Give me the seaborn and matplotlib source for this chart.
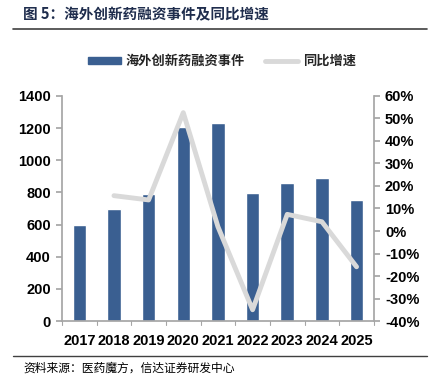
import numpy as np
import pandas as pd
import matplotlib
matplotlib.use("Agg")
import matplotlib.pyplot as plt
import seaborn as sns
from matplotlib.lines import Line2D
from matplotlib.patches import Patch
from matplotlib.ticker import FuncFormatter, MultipleLocator

# 数据
years = ["2017", "2018", "2019", "2020", "2021", "2022", "2023", "2024", "2025"]
events = [600, 695, 790, 1210, 1230, 797, 857, 892, 753]
growth = [np.nan, 15.7, 13.8, 52.6, 1.9, -35.0, 7.4, 4.1, -15.9]

bar_color = "#3A5F91"
line_color = "#D9D9D9"
axis_color = "#A6A6A6"

sns.set_theme(style="white")
plt.rcParams["font.family"] = ["Liberation Sans", "Noto Sans CJK SC", "DejaVu Sans"]

df = pd.DataFrame({"year": years, "events": events, "growth": growth})
df["pos"] = np.arange(len(df))

fig = plt.figure(figsize=(4.35, 3.87), dpi=100)
ax = fig.add_axes([0.1425, 0.1705, 0.717, 0.5815])

sns.barplot(data=df, x="year", y="events", color=bar_color, width=0.39,
            saturation=1, ax=ax, zorder=2)
ax.set_ylim(0, 1400)
ax.yaxis.set_major_locator(MultipleLocator(200))
ax.set_xlim(-0.5, len(years) - 0.5)

ax2 = ax.twinx()
sns.lineplot(data=df, x="pos", y="growth", color=line_color, linewidth=3.5,
             ax=ax2, zorder=3)
ax2.set_ylim(-40, 60)
ax2.yaxis.set_major_locator(MultipleLocator(10))
ax2.yaxis.set_major_formatter(FuncFormatter(lambda v, p: f"{v:.0f}%"))
ax2.set_xlim(-0.5, len(years) - 0.5)

for a in (ax, ax2):
    a.set_xlabel("")
    a.set_ylabel("")
    for s in a.spines.values():
        s.set_visible(False)
ax.spines["left"].set_visible(True)
ax.spines["bottom"].set_visible(True)
ax2.spines["right"].set_visible(True)
ax.spines["left"].set_color(axis_color)
ax.spines["bottom"].set_color(axis_color)
ax2.spines["right"].set_color(axis_color)

ax.tick_params(axis="y", left=True, length=4, color=axis_color, labelsize=10.5, pad=4)
ax2.tick_params(axis="y", right=True, length=4, color=axis_color, labelsize=10.5, pad=4)
ax.tick_params(axis="x", bottom=False, labelsize=10.5, pad=3)
for lab in ax.get_yticklabels() + ax2.get_yticklabels() + ax.get_xticklabels():
    lab.set_fontweight("bold")
    lab.set_color("black")

# x轴刻度位于类别之间
for i in range(len(years) + 1):
    ax.plot([i - 0.5, i - 0.5], [0, -25], color=axis_color, lw=0.8,
            clip_on=False, zorder=1)

# 图例
handles = [Patch(facecolor=bar_color, edgecolor=bar_color),
           Line2D([0], [0], color=line_color, lw=3.5)]
fig.legend(handles, ["海外创新药融资事件", "同比增速"], loc="center",
           bbox_to_anchor=(0.51, 0.842), ncol=2, frameon=False,
           prop={"family": ["Noto Sans CJK SC"], "size": 9.5, "weight": "bold"},
           handlelength=2.5, handleheight=0.4, columnspacing=1.5,
           handletextpad=0.4)

# 标题与来源
fig.text(0.052, 0.964, "图 5：海外创新药融资事件及同比增速", fontsize=10.5,
         fontweight="bold", color="#1F2D4D", va="center",
         family=["Noto Sans CJK SC", "DejaVu Sans"])
fig.add_artist(Line2D([0.03, 0.982], [0.925, 0.925], color="#404040", lw=1.2))
fig.add_artist(Line2D([0.03, 0.982], [0.08, 0.08], color="#404040", lw=1.0))
fig.text(0.055, 0.05, "资料来源：医药魔方，信达证券研发中心", fontsize=8.5,
         fontstyle="italic", color="black", va="center",
         family=["Noto Sans CJK SC", "DejaVu Sans"])

fig.savefig("out.png", dpi=100)
